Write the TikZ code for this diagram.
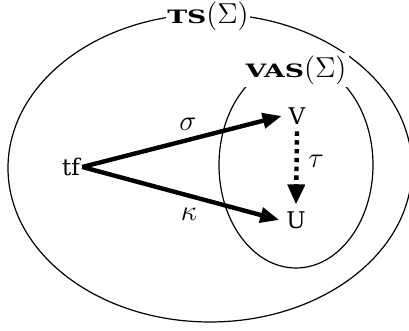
\documentclass[tikz,border=0pt]{standalone}
\usepackage{fontspec}
\newfontfamily\elemfont{DejaVu Serif}
\newfontfamily\setfont[FakeStretch=1.45]{DejaVu Serif Bold}
\usetikzlibrary{arrows.meta}
\begin{document}
\begin{tikzpicture}[x=0.5pt,y=-0.5pt,
  setline/.style={line width=0.6pt},
  setlabel/.style={fill=white,inner sep=0.8pt,font=\fontsize{13.5}{15}\selectfont},
  elem/.style={font=\fontsize{11.5}{13}\selectfont\elemfont},
  maplabel/.style={font=\fontsize{14}{16}\selectfont,inner sep=0pt},
  maparrow/.style={line width=2.2pt,-{Triangle[length=9.5pt,width=7.5pt]}},
  dotarrow/.style={line width=2.2pt,dash pattern=on 2.2pt off 2.2pt,-{Triangle[length=10pt,width=8.5pt]}}]
\useasboundingbox (0,0) rectangle (409,331);
\draw[setline] (210,168) ellipse [x radius=101pt, y radius=77pt];
\draw[setline] (296,165) ellipse [x radius=38.5pt, y radius=51.5pt];
\node[setlabel] (ts) at (208,16) {{\fontsize{9.2}{10}\setfont TS}$(\Sigma)$};
\node[setlabel,inner sep=1.5pt] (vas) at (296,70) {{\fontsize{9.2}{10}\setfont VAS}$(\Sigma)$};
\node[elem,inner sep=1pt] (tf) at (71,167) {tf};
\node[elem] (V) at (297,116) {V};
\node[elem] (U) at (296,220) {U};
\draw[maparrow] (tf.east) -- (V.west);
\draw[maparrow] (tf.east) -- (U.west);
\draw[dotarrow] (V.south) -- (U.north);
\node[maplabel] (sigma) at (188,124) {$\sigma$};
\node[maplabel] (kappa) at (189,214) {$\kappa$};
\node[maplabel] (tau) at (316,161) {$\tau$};
\end{tikzpicture}
\end{document}
